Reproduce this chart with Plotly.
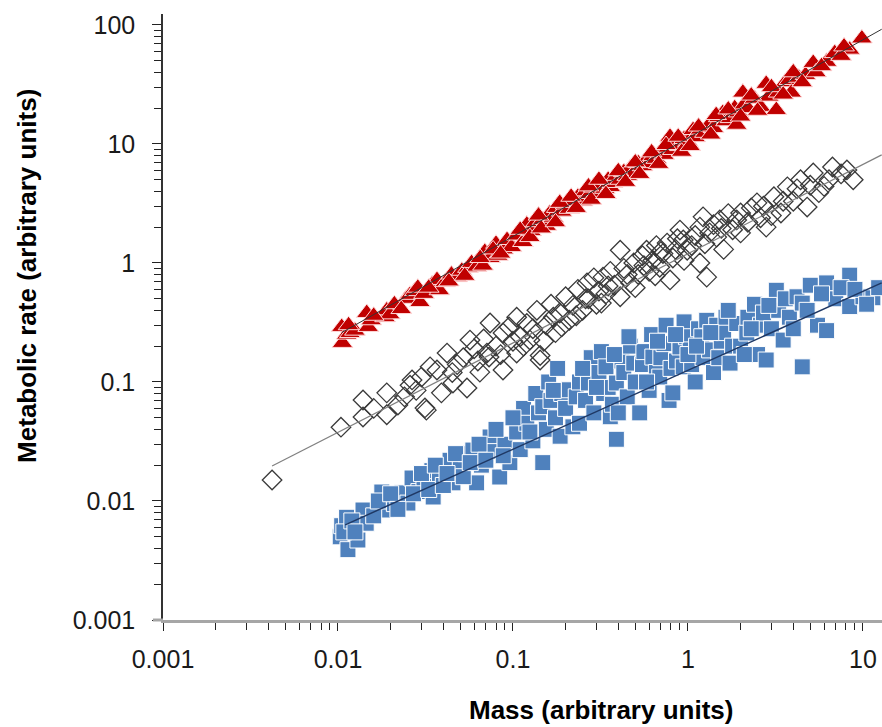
import plotly.graph_objects as go

# ---------------- data ----------------
red_x = [0.0105, 0.0106, 0.0112, 0.0117, 0.0125, 0.0146, 0.0149, 0.0155, 0.0186, 0.019,
         0.0198, 0.0245, 0.0258, 0.0275, 0.0286, 0.0294, 0.031, 0.0345, 0.0368, 0.038,
         0.041, 0.0445, 0.0479, 0.051, 0.0553, 0.058, 0.062, 0.0674, 0.069, 0.074,
         0.080, 0.082, 0.088, 0.0925, 0.098, 0.105, 0.114, 0.12, 0.127, 0.135,
         0.148, 0.155, 0.162, 0.17, 0.178, 0.19, 0.2, 0.21, 0.22, 0.235,
         0.25, 0.26, 0.275, 0.29, 0.3, 0.32, 0.335, 0.35, 0.36, 0.37,
         0.39, 0.41, 0.43, 0.45, 0.47, 0.49, 0.52, 0.55, 0.58, 0.6,
         0.63, 0.66, 0.7, 0.73, 0.77, 0.79, 0.82, 0.85, 0.9, 0.95,
         1.0, 1.07, 1.1, 1.18, 1.25, 1.32, 1.4, 1.5, 1.58, 1.65,
         1.75, 1.85, 1.9, 1.95, 2.06, 2.1, 2.2, 2.4, 2.6, 2.8,
         2.9, 3.2, 3.3, 3.6, 3.8, 3.9, 4.3, 4.7, 5.2, 5.4,
         6.2, 6.9, 8.4, 9.86,
         0.0115, 0.016, 0.021, 0.023, 0.033, 0.043, 0.053, 0.065, 0.077, 0.085,
         0.11, 0.125, 0.14, 0.145, 0.175, 0.185, 0.215, 0.23, 0.27, 0.28,
         0.31, 0.34, 0.4, 0.44, 0.5, 0.53, 0.62, 0.68, 0.75, 0.88,
         0.92, 1.03, 1.15, 1.35, 1.45, 1.7, 2.0, 2.3, 2.5, 3.0,
         3.5, 4.0, 4.5, 5.8, 7.5, 7.8]
red_y = [0.29, 0.213, 0.25, 0.258, 0.27, 0.38, 0.29, 0.33, 0.35, 0.40,
         0.37, 0.50, 0.54, 0.58, 0.62, 0.47, 0.55, 0.66, 0.72, 0.59,
         0.69, 0.80, 0.76, 0.86, 0.91, 1.0, 0.93, 0.95, 1.24, 1.10,
         1.45, 1.15, 1.30, 1.56, 1.36, 1.70, 1.5, 2.1, 1.85, 2.2,
         2.3, 2.05, 2.6, 2.4, 2.9, 2.7, 3.1, 2.85, 3.3, 3.6,
         3.3, 4.0, 3.8, 4.3, 3.9, 4.6, 4.2, 5.0, 4.35, 4.7,
         5.4, 5.0, 5.8, 5.4, 6.3, 5.7, 6.9, 6.5, 7.4, 6.9,
         7.9, 7.5, 8.6, 8.1, 9.3, 11.5, 8.9, 10.0, 9.6, 11.0,
         10.4, 13.1, 11.4, 13.2, 12.4, 14.5, 13.6, 16.8, 18.2, 15.5,
         16.5, 20.0, 14.5, 18.4, 27.0, 21.5, 20.0, 24.0, 20.5, 32.0,
         25.0, 19.3, 27.0, 33.0, 34.5, 27.0, 36.0, 38.0, 48.0, 40.0,
         49.0, 58.0, 62.0, 77.0,
         0.30, 0.36, 0.45, 0.41, 0.62, 0.70, 0.78, 1.1, 1.3, 1.2,
         1.9, 1.65, 2.5, 1.95, 2.2, 3.2, 3.6, 2.9, 4.4, 3.4,
         5.0, 3.8, 5.9, 4.8, 7.0, 5.6, 8.5, 6.8, 9.8, 11.5,
         8.6, 9.6, 14.0, 12.0, 17.5, 19.5, 17.0, 25.5, 19.0, 30.0,
         26.0, 40.0, 33.0, 45.0, 55.0, 66.0]

dia_x = [0.0042, 0.0104, 0.0139, 0.0139, 0.019, 0.019, 0.022, 0.0258, 0.0265, 0.030,
         0.0314, 0.032, 0.0336, 0.0368, 0.039, 0.042, 0.0454, 0.048, 0.0546, 0.0568,
         0.06, 0.0647, 0.071, 0.073, 0.074, 0.08, 0.0877, 0.0877, 0.095, 0.105,
         0.105, 0.11, 0.12, 0.125, 0.137, 0.143, 0.143, 0.155, 0.165, 0.175,
         0.185, 0.2, 0.21, 0.22, 0.235, 0.25, 0.265, 0.27, 0.29, 0.3,
         0.31, 0.327, 0.34, 0.36, 0.38, 0.41, 0.41, 0.43, 0.47, 0.49,
         0.52, 0.55, 0.58, 0.6, 0.63, 0.66, 0.69, 0.72, 0.76, 0.79,
         0.82, 0.87, 0.9, 0.94, 0.99, 1.05, 1.17, 1.17, 1.22, 1.28,
         1.33, 1.4, 1.46, 1.52, 1.6, 1.7, 1.8, 2.0, 2.0, 2.2,
         2.48, 2.6, 2.8, 3.1, 3.4, 3.7, 4.0, 4.4, 4.8, 5.2,
         5.6, 6.4, 6.7, 8.1, 8.8,
         0.016, 0.024, 0.028, 0.045, 0.052, 0.063, 0.068, 0.085, 0.1, 0.115,
         0.13, 0.15, 0.17, 0.19, 0.23, 0.26, 0.32, 0.35, 0.45, 0.5,
         0.56, 0.65, 0.7, 0.85, 0.95, 1.1, 1.25, 1.55, 1.9, 2.3,
         2.7, 3.0, 3.5, 4.2, 5.0, 6.0, 7.5]
dia_y = [0.015, 0.0417, 0.0706, 0.0508, 0.081, 0.053, 0.064, 0.094, 0.104, 0.110,
         0.0605, 0.058, 0.134, 0.126, 0.081, 0.175, 0.098, 0.14, 0.089, 0.225,
         0.19, 0.121, 0.175, 0.162, 0.313, 0.2, 0.258, 0.126, 0.29, 0.35,
         0.175, 0.24, 0.31, 0.225, 0.40, 0.153, 0.167, 0.30, 0.45, 0.26,
         0.38, 0.52, 0.33, 0.44, 0.60, 0.40, 0.68, 0.50, 0.75, 0.45,
         0.58, 0.76, 0.55, 0.85, 0.65, 1.28, 0.52, 0.90, 0.68, 1.0,
         0.80, 1.15, 1.28, 0.85, 1.05, 1.4, 0.92, 1.2, 1.47, 0.72,
         1.1, 1.6, 1.89, 1.56, 1.28, 1.4, 2.0, 1.0, 2.44, 0.76,
         1.79, 2.1, 1.65, 2.3, 1.3, 2.6, 1.9, 2.63, 1.79, 2.2,
         3.2, 2.4, 2.0, 3.6, 2.63, 4.36, 3.3, 5.0, 2.95, 5.7,
         3.9, 5.0, 6.4, 6.05, 5.0,
         0.06, 0.075, 0.085, 0.12, 0.16, 0.15, 0.23, 0.17, 0.22, 0.2,
         0.28, 0.22, 0.35, 0.29, 0.36, 0.5, 0.46, 0.64, 0.8, 0.62,
         0.95, 0.78, 1.25, 1.3, 1.05, 1.7, 1.45, 1.95, 2.3, 2.9,
         3.0, 2.5, 3.3, 4.2, 4.5, 4.4, 5.6]

blue_x = [0.0103, 0.0105, 0.0112, 0.0114, 0.013, 0.0139, 0.0145, 0.0178, 0.019, 0.021,
          0.0232, 0.0251, 0.0265, 0.029, 0.031, 0.0344, 0.035, 0.038, 0.0437, 0.0454,
          0.05, 0.054, 0.059, 0.062, 0.066, 0.074, 0.078, 0.084, 0.09, 0.096,
          0.105, 0.11, 0.115, 0.12, 0.13, 0.135, 0.14, 0.148, 0.148, 0.155,
          0.16, 0.165, 0.175, 0.18, 0.186, 0.19, 0.2, 0.21, 0.22, 0.23,
          0.24, 0.24, 0.26, 0.27, 0.28, 0.29, 0.31, 0.32, 0.33, 0.34,
          0.35, 0.36, 0.37, 0.39, 0.39, 0.42, 0.43, 0.45, 0.47, 0.49,
          0.5, 0.53, 0.55, 0.56, 0.6, 0.62, 0.63, 0.66, 0.69, 0.7,
          0.73, 0.75, 0.78, 0.8, 0.82, 0.86, 0.9, 0.94, 0.95, 0.98,
          1.03, 1.05, 1.1, 1.15, 1.2, 1.22, 1.28, 1.33, 1.4, 1.46,
          1.5, 1.55, 1.6, 1.65, 1.74, 1.8, 1.9, 2.0, 2.17, 2.2,
          2.4, 2.5, 2.6, 2.7, 2.8, 3.0, 3.2, 3.3, 3.5, 3.6,
          3.8, 4.2, 4.5, 4.5, 5.0, 5.5, 6.2, 6.2, 7.0, 8.4,
          8.4, 10.0, 11.4, 12.3,
          0.0108, 0.012, 0.0125, 0.016, 0.017, 0.02, 0.022, 0.027, 0.03, 0.033,
          0.036, 0.04, 0.042, 0.047, 0.052, 0.057, 0.064, 0.07, 0.08, 0.088,
          0.1, 0.125, 0.17, 0.25, 0.3, 0.38, 0.4, 0.46, 0.58, 0.67,
          0.85, 1.0, 1.12, 1.35, 1.7, 2.1, 2.3, 2.9, 4.0, 4.8,
          5.8, 7.5, 9.0, 10.5]
blue_y = [0.005, 0.0062, 0.0073, 0.0039, 0.0047, 0.0084, 0.0065, 0.0119, 0.0084, 0.0095,
          0.0117, 0.0096, 0.0156, 0.012, 0.0135, 0.018, 0.0108, 0.015, 0.022, 0.0142,
          0.019, 0.025, 0.0268, 0.0142, 0.02, 0.0345, 0.026, 0.0159, 0.03, 0.021,
          0.038, 0.027, 0.06, 0.045, 0.032, 0.08, 0.055, 0.062, 0.021, 0.04,
          0.1, 0.07, 0.05, 0.13, 0.035, 0.08, 0.06, 0.086, 0.042, 0.075,
          0.045, 0.1, 0.07, 0.098, 0.16, 0.055, 0.12, 0.18, 0.08, 0.134,
          0.09, 0.051, 0.065, 0.098, 0.033, 0.15, 0.12, 0.075, 0.2, 0.144,
          0.1, 0.055, 0.14, 0.18, 0.085, 0.25, 0.162, 0.12, 0.11, 0.16,
          0.21, 0.3, 0.07, 0.13, 0.081, 0.15, 0.197, 0.134, 0.32, 0.24,
          0.186, 0.14, 0.1, 0.28, 0.24, 0.16, 0.33, 0.186, 0.12, 0.30,
          0.16, 0.22, 0.26, 0.35, 0.144, 0.2, 0.31, 0.2, 0.258, 0.35,
          0.45, 0.17, 0.3, 0.38, 0.153, 0.28, 0.59, 0.4, 0.225, 0.5,
          0.35, 0.52, 0.46, 0.134, 0.65, 0.3, 0.68, 0.27, 0.5, 0.79,
          0.43, 0.52, 0.51, 0.62,
          0.0055, 0.0068, 0.0055, 0.0075, 0.01, 0.0115, 0.0085, 0.0115, 0.017, 0.0125,
          0.02, 0.0135, 0.017, 0.025, 0.016, 0.021, 0.03, 0.022, 0.04, 0.024,
          0.05, 0.038, 0.085, 0.13, 0.09, 0.17, 0.055, 0.24, 0.1, 0.22,
          0.25, 0.17, 0.2, 0.26, 0.4, 0.17, 0.28, 0.44, 0.28, 0.4,
          0.55, 0.62, 0.6, 0.45]

# fitted power-law lines (end points)
fit_red_x = [0.0105, 12.8]
fit_red_y = [0.26, 92.0]
fit_dia_x = [0.0042, 12.8]
fit_dia_y = [0.0197, 8.1]
fit_blue_x = [0.011, 12.8]
fit_blue_y = [0.0063, 0.68]

x_tick_vals = [0.001, 0.01, 0.1, 1, 10]
x_tick_text = ["0.001", "0.01", "0.1", "1", "10"]
y_tick_vals = [0.001, 0.01, 0.1, 1, 10, 100]
y_tick_text = ["0.001", "0.01", "0.1", "1", "10", "100"]

x_title = "Mass (arbitrary units)"
y_title = "Metabolic rate (arbitrary units)"

# ---------------- figure ----------------
FONT = "Liberation Sans, Arial, sans-serif"

fig = go.Figure()

fig.add_trace(go.Scatter(
    x=blue_x, y=blue_y, mode="markers",
    marker=dict(symbol="square", size=16, color="#4F81BD",
                line=dict(color="#FFFFFF", width=1)),
    showlegend=False, hoverinfo="skip"))
fig.add_trace(go.Scatter(
    x=dia_x, y=dia_y, mode="markers",
    marker=dict(symbol="diamond-open", size=15, color="#3A3A3A",
                line=dict(color="#3A3A3A", width=1.3)),
    showlegend=False, hoverinfo="skip"))
fig.add_trace(go.Scatter(
    x=red_x, y=red_y, mode="markers",
    marker=dict(symbol="triangle-up", size=18, color="#C00000",
                line=dict(color="#FFD8D8", width=1)),
    showlegend=False, hoverinfo="skip"))

fig.add_trace(go.Scatter(x=fit_blue_x, y=fit_blue_y, mode="lines",
                         line=dict(color="#1F3864", width=1.5),
                         showlegend=False, hoverinfo="skip"))
fig.add_trace(go.Scatter(x=fit_dia_x, y=fit_dia_y, mode="lines",
                         line=dict(color="#808080", width=1.2),
                         showlegend=False, hoverinfo="skip"))
fig.add_trace(go.Scatter(x=fit_red_x, y=fit_red_y, mode="lines",
                         line=dict(color="#333333", width=1),
                         showlegend=False, hoverinfo="skip"))

minor_vals = [m * 10 ** e for e in range(-3, 3) for m in range(2, 10)]

fig.update_xaxes(
    type="log", range=[-3, 1.109],
    tickmode="array", tickvals=x_tick_vals, ticktext=x_tick_text,
    ticks="outside", ticklen=8, tickwidth=1, tickcolor="#222222",
    ticklabelstandoff=7,
    minor=dict(tickmode="array", tickvals=minor_vals, ticks="outside",
               ticklen=7, tickwidth=1, tickcolor="#222222"),
    showline=True, linecolor="#A6A6A6", linewidth=3,
    showgrid=False, zeroline=False,
    tickfont=dict(family=FONT, size=25, color="#1A1A1A"),
)
fig.update_yaxes(
    type="log", range=[-3, 2.092],
    tickmode="array", tickvals=y_tick_vals, ticktext=y_tick_text,
    ticks="outside", ticklen=9, tickwidth=1, tickcolor="#222222",
    ticklabelstandoff=12,
    minor=dict(tickmode="array", tickvals=minor_vals,
               ticks="outside", ticklen=7, tickwidth=1, tickcolor="#222222"),
    showline=True, linecolor="#333333", linewidth=1.5,
    showgrid=False, zeroline=False,
    tickfont=dict(family=FONT, size=25, color="#1A1A1A"),
)

fig.add_annotation(text="<b>" + x_title + "</b>", xref="paper", yref="paper",
                   x=0.609, y=-0.1485, xanchor="center", yanchor="middle",
                   showarrow=False, font=dict(family=FONT, size=26, color="#000000"))
fig.add_annotation(text="<b>" + y_title + "</b>", xref="paper", yref="paper",
                   x=-0.189, y=0.568, xanchor="center", yanchor="middle", textangle=-90,
                   showarrow=False, font=dict(family=FONT, size=26, color="#000000"))

# x axis line continues a little to the left of the y axis
fig.add_shape(type="line", xref="paper", yref="paper", x0=-0.014, x1=0, y0=0, y1=0,
              line=dict(color="#A6A6A6", width=3))

fig.update_layout(
    width=882, height=727,
    margin=dict(l=163, r=0, t=14, b=107),
    paper_bgcolor="#FFFFFF", plot_bgcolor="#FFFFFF",
    showlegend=False,
)

fig.write_html("out.html", config={"displayModeBar": False},
               post_script="document.body.style.margin='0';document.body.style.overflow='hidden';")
